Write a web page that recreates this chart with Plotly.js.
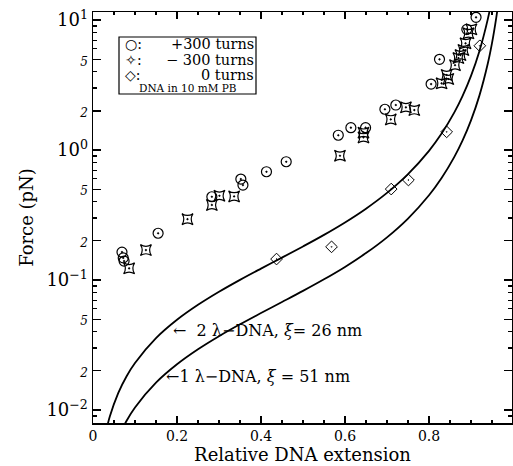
<!DOCTYPE html>
<html><head><meta charset="utf-8">
<script src="https://cdn.plot.ly/plotly-3.0.1.min.js"></script>
<style>html,body{margin:0;padding:0;background:#fff}</style>
</head><body>
<div id="chart" style="width:513px;height:466px"></div>
<script>
// +300 turns (circles)
const posX = [0.069, 0.072, 0.074, 0.155, 0.283, 0.352, 0.357, 0.413, 0.46, 0.584, 0.614, 0.649, 0.695, 0.721, 0.805, 0.825, 0.890, 0.912];
const posF = [0.164, 0.148, 0.140, 0.229, 0.437, 0.598, 0.538, 0.681, 0.813, 1.30, 1.485, 1.485, 2.06, 2.22, 3.22, 4.99, 8.48, 10.5];
// -300 turns (stars)
const negX = [0.086, 0.126, 0.225, 0.283, 0.301, 0.336, 0.588, 0.644, 0.644, 0.709, 0.745, 0.765, 0.83, 0.842, 0.846, 0.862, 0.87, 0.875, 0.882, 0.887, 0.894, 0.901];
const negF = [0.123, 0.170, 0.294, 0.378, 0.445, 0.44, 0.904, 1.25, 1.36, 1.72, 2.13, 2.03, 3.26, 3.78, 3.52, 4.5, 5.1, 5.38, 5.88, 6.62, 7.9, 8.48];
// 0 turns (diamonds)
const zeroX = [0.437, 0.568, 0.71, 0.751, 0.842, 0.921];
const zeroF = [0.145, 0.180, 0.501, 0.588, 1.38, 6.34];
// curves
const curve2X = [0.03, 0.04, 0.06, 0.08, 0.1, 0.15, 0.2, 0.25, 0.3, 0.35, 0.4, 0.45, 0.5, 0.55, 0.6, 0.65, 0.7, 0.75, 0.8, 0.83, 0.86, 0.88, 0.9, 0.92, 0.94, 0.95];
const curve2F = [0.0066, 0.0089, 0.0135, 0.0182, 0.0230, 0.0357, 0.0494, 0.0644, 0.0812, 0.1003, 0.1224, 0.1488, 0.1813, 0.2225, 0.2773, 0.3539, 0.468, 0.6525, 0.986, 1.338, 1.938, 2.609, 3.719, 5.761, 10.17, 14.6];
const curve1X = [0.06, 0.08, 0.1, 0.15, 0.2, 0.25, 0.3, 0.35, 0.4, 0.45, 0.5, 0.55, 0.6, 0.65, 0.7, 0.75, 0.8, 0.83, 0.86, 0.88, 0.9, 0.92, 0.94, 0.95, 0.96, 0.965];
const curve1F = [0.00613, 0.00827, 0.01047, 0.01624, 0.02248, 0.02933, 0.03697, 0.04565, 0.05573, 0.06775, 0.0825, 0.1013, 0.1262, 0.1611, 0.2130, 0.297, 0.4488, 0.6092, 0.8821, 1.187, 1.693, 2.622, 4.629, 6.646, 10.36, 13.5];
const yTickVals = [0.01, 0.02, 0.05, 0.1, 0.2, 0.5, 1, 2, 5, 10];
const yTickText = ['10<sup>−2</sup>', 'sm2', 'sm5', '10<sup>−1</sup>', 'sm2', 'sm5', '10<sup>0</sup>', 'sm2', 'sm5', '10<sup>1</sup>'];
const xTickVals = [0, 0.2, 0.4, 0.6, 0.8];
const xTickText = ['0', '0.2', '0.4', '0.6', '0.8'];

const FONT = "'DejaVu Serif', 'Liberation Serif', serif";
const L = 93, R = 1, T = 12, B = 43, W = 513, H = 466;
const pw = W - L - R, ph = H - T - B;
const px = v => (v - L) / pw;
const py = v => (H - B - v) / ph;

const ticktext = yTickText.map(t => t.startsWith('sm') ? '<span style="font-size:12px"><i>' + t.slice(2) + '</i></span>' : t);
const minorVals = [];
[0.001, 0.01, 0.1, 1].forEach(d => [3, 4, 6, 7, 8, 9].forEach(m => minorVals.push(d * m)));

const traces = [
  {x: curve2X, y: curve2F, mode: 'lines', line: {color: 'black', width: 1.8, shape: 'spline'}, showlegend: false, hoverinfo: 'skip'},
  {x: curve1X, y: curve1F, mode: 'lines', line: {color: 'black', width: 1.8, shape: 'spline'}, showlegend: false, hoverinfo: 'skip'},
  {x: posX, y: posF, mode: 'markers', marker: {symbol: 'circle-open-dot', size: 10, color: 'black', line: {width: 1.2, color: 'black'}}, showlegend: false},
  {x: negX, y: negF, mode: 'markers', marker: {symbol: 'star-square-open-dot', size: 10, color: 'black', line: {width: 1.2, color: 'black'}}, showlegend: false},
  {x: zeroX, y: zeroF, mode: 'markers', marker: {symbol: 'diamond-open-dot', size: 9, color: 'black', line: {width: 1, color: 'black'}}, showlegend: false}
];

const ann = [];
const lg = (t, x, y, anchor, size) => ann.push({text: t, xref: 'paper', yref: 'paper', x: px(x), y: py(y), xanchor: anchor, yanchor: 'middle', showarrow: false, borderpad: 0, font: {family: FONT, size: size, color: 'black'}});
lg('○:', 124, 44.5, 'left', 14);
lg('✧:', 124, 59.5, 'left', 14);
lg('◇:', 124, 74.5, 'left', 14);
lg('+300 turns', 255, 44.5, 'right', 14.5);
lg('− 300 turns', 255, 59.5, 'right', 14.5);
lg('0 turns', 255, 74.5, 'right', 14.5);
lg('DNA in 10 mM PB', 188, 88, 'center', 10.5);
ann.push({text: '←  2 λ−DNA, <i>ξ</i>= 26 nm', xref: 'x', yref: 'y', x: 0.186, y: Math.log10(0.0412), xanchor: 'left', yanchor: 'middle', showarrow: false, font: {family: FONT, size: 16, color: 'black'}});
ann.push({text: '←1 λ−DNA, <i>ξ</i> = 51 nm', xref: 'x', yref: 'y', x: 0.17, y: -1.746, xanchor: 'left', yanchor: 'middle', showarrow: false, font: {family: FONT, size: 16, color: 'black'}});

const layout = {
  width: W, height: H,
  margin: {l: L, r: R, t: T, b: B},
  paper_bgcolor: 'white', plot_bgcolor: 'white',
  showlegend: false,
  font: {family: FONT, color: 'black'},
  xaxis: {
    range: [0, pw / 420], showgrid: false, zeroline: false,
    showline: true, linecolor: 'black', linewidth: 1.5, mirror: 'ticks',
    ticks: 'inside', ticklen: 7, tickwidth: 1.2, tickcolor: 'black',
    tickmode: 'array', tickvals: xTickVals, ticktext: xTickText,
    tickfont: {family: FONT, size: 14},
    minor: {ticks: 'inside', ticklen: 3, dtick: 0.05, tickcolor: 'black', showgrid: false},
    title: {text: 'Relative DNA extension', font: {family: FONT, size: 18}, standoff: 4}
  },
  yaxis: {
    type: 'log', range: [-2.1, 1.062], showgrid: false, zeroline: false,
    showline: true, linecolor: 'black', linewidth: 1.5, mirror: 'ticks',
    ticks: 'inside', ticklen: 8, tickwidth: 1.2, tickcolor: 'black',
    tickmode: 'array', tickvals: yTickVals, ticktext: ticktext,
    tickfont: {family: FONT, size: 18},
    minor: {ticks: 'inside', ticklen: 4, tickmode: 'array', tickvals: minorVals, tickcolor: 'black', showgrid: false},
    title: {text: 'Force (pN)', font: {family: FONT, size: 18}, standoff: 8}
  },
  shapes: [{type: 'rect', xref: 'paper', yref: 'paper', x0: px(119), x1: px(256), y0: py(37), y1: py(94), line: {color: 'black', width: 1.2}, fillcolor: 'rgba(0,0,0,0)'}],
  annotations: ann
};
Plotly.newPlot('chart', traces, layout, {displayModeBar: false, staticPlot: true});
</script>
</body></html>
